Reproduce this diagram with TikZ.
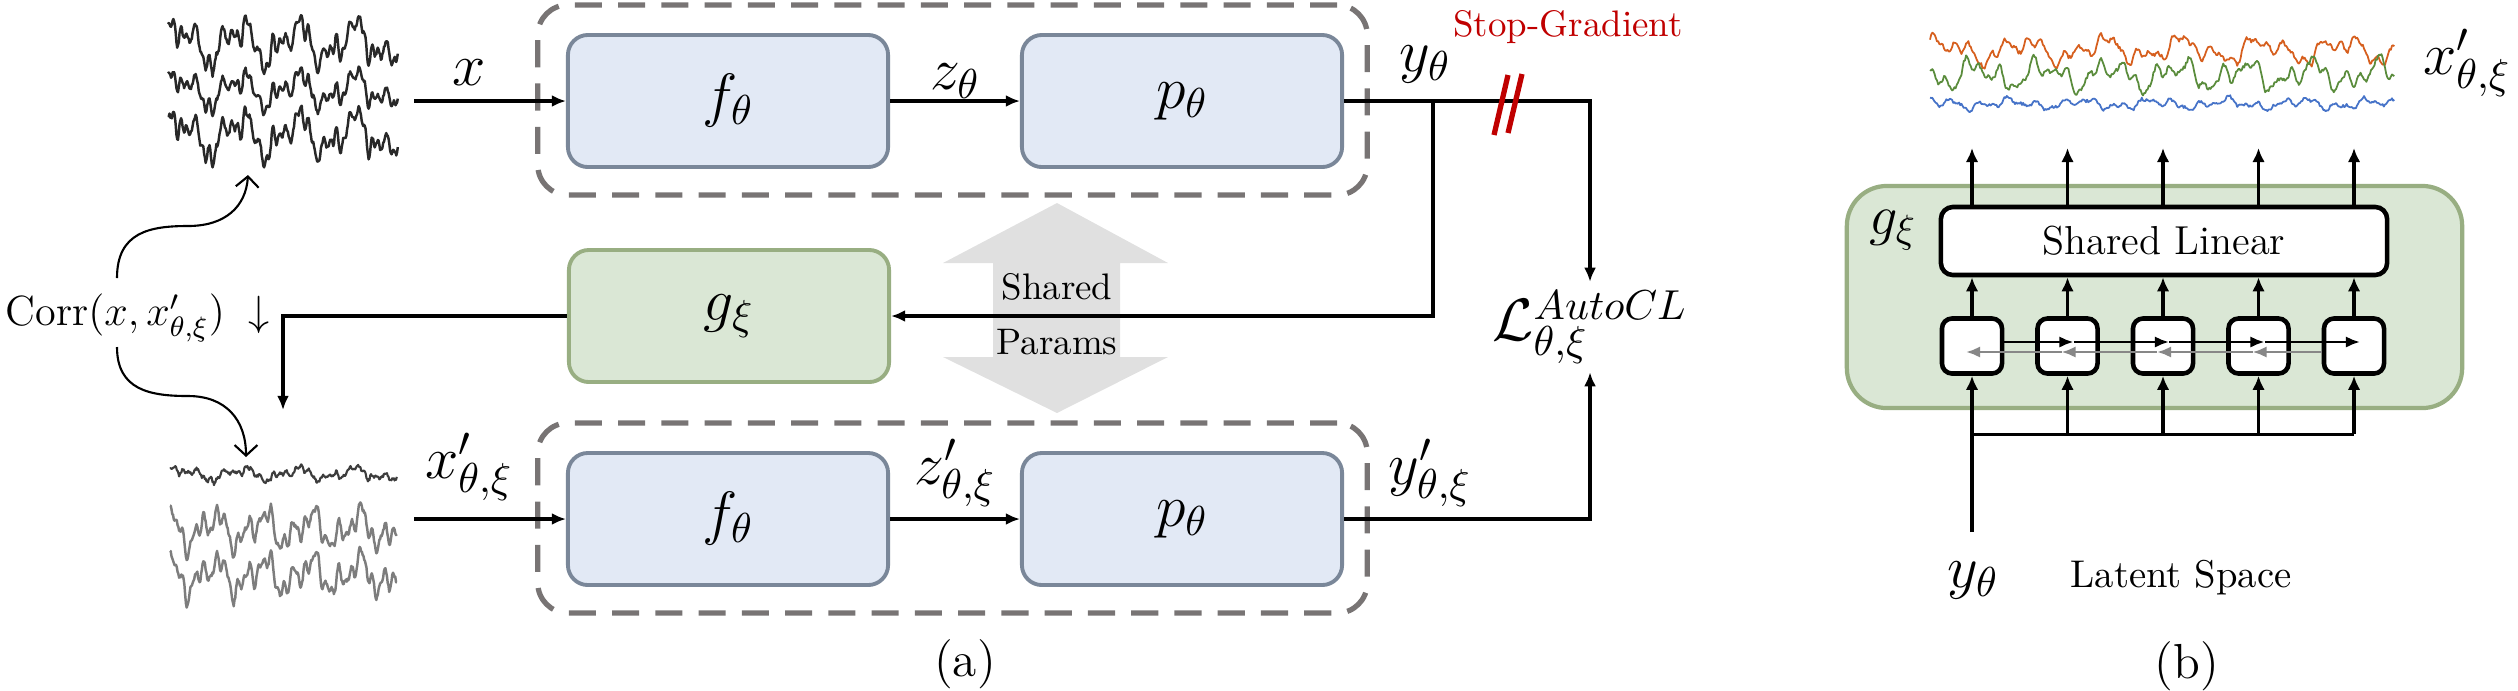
\RequirePackage{fix-cm}
\documentclass[tikz,border=0pt]{standalone}
\usepackage{fontspec}
\newfontfamily\lmr{Latin Modern Roman}
\usetikzlibrary{arrows.meta}
\definecolor{fillblue}{RGB}{226,233,245}
\definecolor{boxblue}{RGB}{122,135,153}
\definecolor{fillgreen}{RGB}{218,231,213}
\definecolor{boxgreen}{RGB}{152,174,130}
\definecolor{dashgray}{RGB}{120,116,116}
\definecolor{sharegray}{RGB}{224,224,224}
\definecolor{stopred}{RGB}{192,0,0}
\definecolor{trorange}{RGB}{214,95,30}
\definecolor{trgreen}{RGB}{90,140,60}
\definecolor{trblue}{RGB}{70,115,200}
\definecolor{eegdark}{RGB}{40,40,40}
\definecolor{eeggray}{RGB}{125,125,125}
\definecolor{cellgray}{RGB}{135,135,135}
\begin{document}
\begin{tikzpicture}[x=0.01cm,y=-0.01cm,
  mlab/.style={font=\fontsize{17}{20}\selectfont, inner sep=0pt},
  llab/.style={font=\lmr\fontsize{#1}{#1}\selectfont, inner sep=0pt},
  blk/.style={draw=boxblue, fill=fillblue, line width=1.1pt, rounded corners=0.2cm,
    minimum width=3.2cm, minimum height=1.32cm, font=\fontsize{17}{20}\selectfont},
  gblk/.style={blk, draw=boxgreen, fill=fillgreen},
  dbox/.style={draw=dashgray, line width=1.5pt, dash pattern=on 7.7pt off 4.6pt,
    rounded corners=0.3cm, minimum width=8.29cm, minimum height=1.9cm},
  arr/.style={line width=0.9pt, -{Latex[length=4pt,width=3.4pt]}},
  carr/.style={line width=0.6pt, -{Straight Barb[length=3pt,width=6.5pt]}},
  arrb/.style={line width=0.95pt, -{Latex[length=4pt,width=3.6pt]}},
  harr/.style={line width=0.75pt, -{Latex[length=4pt,width=3.2pt]}},
  cell/.style={draw, fill=white, line width=1.3pt, rounded corners=0.1cm,
    minimum width=0.6cm, minimum height=0.55cm},
  eeg/.style={line width=0.7pt, line join=round},
  declare function={
    eA(\t)=15*sin(1430*\t+10)+10*sin(3100*\t+70)+7*sin(6500*\t+20)+5*sin(11700*\t+150)+3*sin(14300*\t+40);
    eC(\t)=12*sin(1700*\t+120)+9*sin(3500*\t+10)+7*sin(7300*\t+60)+5*sin(12100*\t+100);
    rO(\t)=8*sin(2100*\t+30)+6*sin(4700*\t+80)+4*sin(9100*\t)+3*sin(13900*\t+50);
    rG(\t)=9*sin(2500*\t+200)+7*sin(5300*\t+10)+5*sin(9700*\t+90)+3*sin(14900*\t);
    rB(\t)=3*sin(2300*\t+60)+3*sin(6100*\t+140)+2*sin(11300*\t+20);
  }]
\useasboundingbox (0,0) rectangle (2518,690);
\pgfmathsetseed{11}

% ---------- panel (a) ----------
\node[dbox] (enc1) at (952.5,100) {};
\node[dbox] (enc2) at (952.5,518) {};

\fill[sharegray] (1057,203) -- (1168,263) -- (1120,263) -- (1120,357) -- (1168,357)
  -- (1057,413) -- (943,357) -- (993,357) -- (993,263) -- (943,263) -- cycle;
\node[llab=10.5] (sh) at (1057,287) {Shared};
\node[llab=10.5] (pa) at (1057,342) {Params};

\node[blk] (f1) at (728,101) {$f_\theta$};
\node[blk] (p1) at (1182,101) {$p_\theta$};
\node[gblk] (g) at (729,316) {$g_\xi$};
\node[blk] (f2) at (728,519) {$f_\theta$};
\node[blk] (p2) at (1182,519) {$p_\theta$};

% signals (a)
\draw[eeg, eegdark] plot[domain=0:1, samples=300] ({168+230*\x},{43-eA(\x)-2*rand});
\draw[eeg, eegdark] plot[domain=0:1, samples=300] ({168+230*\x},{90-0.8*eA(\x)-2*rand});
\draw[eeg, eegdark] plot[domain=0:1, samples=300] ({168+230*\x},{135-eA(\x)-2*rand});
\draw[eeg, eegdark!90, line width=0.6pt] plot[domain=0:1, samples=300] ({170+227*\x},{474-0.3*eA(\x)-1.5*rand});
\draw[eeg, eeggray] plot[domain=0:1, samples=300] ({170+227*\x},{529-eC(\x)-2*rand});
\draw[eeg, eeggray] plot[domain=0:1, samples=300] ({170+227*\x},{575-eC(\x)-2*rand});

\coordinate (xin) at (414,101);
\coordinate (xin2) at (414,519);
\coordinate (sig2top) at (283,410);
\coordinate (br) at (1433,101);
\coordinate (corner1) at (1590,101);

\node[mlab, minimum height=0.89cm] (L) at (1590,327) {$\mathcal{L}^{AutoCL}_{\theta,\xi}$};

\draw[arr] (xin) -- (f1.west);
\draw[arr] (f1) -- (p1);
\draw[arr] (p1.east) -- (corner1) -- (L.north);
\draw[arr] (br) |- (g.east);
\draw[arr] (g.west) -| (sig2top);
\draw[arr] (xin2) -- (f2.west);
\draw[arr] (f2) -- (p2);
\draw[arr] (p2.east) -| (L.south);

\node[mlab] (xl) at (469,73) {$x$};
\node[mlab] (zl) at (955,81) {$z_\theta$};
\node[mlab] (yl) at (1425,64) {$y_\theta$};
\node[mlab] (xl2) at (469,467) {$x'_{\theta,\xi}$};
\node[mlab] (zl2) at (955,473) {$z'_{\theta,\xi}$};
\node[mlab] (yl2) at (1430,473) {$y'_{\theta,\xi}$};

\node[llab=10.5, text=stopred] (sg) at (1568,27) {Stop-Gradient};
\draw[stopred, line width=1.5pt] (1508,75) -- (1494,135);
\draw[stopred, line width=1.5pt] (1522,74) -- (1508,133);

\node[font=\fontsize{12}{14}\selectfont, inner sep=0pt, anchor=west] (corr) at (5,318)
  {$\mathrm{Corr}\big(x, x'_{\theta,\xi}\big)\;\downarrow$};
\coordinate (cs1) at (117,278);
\coordinate (ce1) at (248,175);
\coordinate (cs2) at (117,347);
\coordinate (ce2) at (246,457);
\draw[carr] (cs1) .. controls (117,232) and (150,226) .. (188,226) .. controls (226,226) and (246,206) .. (ce1);
\draw[carr] (cs2) .. controls (117,390) and (150,396) .. (188,396) .. controls (226,396) and (246,420) .. (ce2);

\node[llab=14] (ca) at (965,664) {(a)};

% ---------- panel (b) ----------
\node[draw=boxgreen, fill=fillgreen, line width=1.2pt, rounded corners=0.4cm,
  minimum width=6.15cm, minimum height=2.22cm] (G2) at (2154.5,297) {};
\node[mlab, font=\fontsize{16}{19}\selectfont] (gl) at (1893,230) {$g_\xi$};
\node[draw, fill=white, line width=1.3pt, rounded corners=0.12cm, minimum width=4.46cm,
  minimum height=0.68cm, font=\lmr\fontsize{11.5}{13}\selectfont] (SL) at (2164,241) {Shared Linear};
\foreach \i/\xx in {1/1972,2/2067.5,3/2163,4/2258.5,5/2354}{
  \node[cell] (c\i) at (\xx,346) {};
  \coordinate (hb\i) at (\xx+6,342);
  \coordinate (hg\i) at (\xx-6,352);
}
\coordinate (busy) at (0,434);
\coordinate (topy) at (0,148);
\coordinate (yin) at (1972,532);
\foreach \i in {1,...,5}{
  \draw[arrb] (c\i.north) -- (c\i.north |- SL.south);
  \draw[arrb] (c\i.north |- SL.north) -- (c\i.north |- topy);
}
\draw[line width=0.85pt] (c1.south |- busy) -- (c5.south |- busy);
\foreach \i in {2,...,5}{
  \draw[arrb] (c\i.south |- busy) -- (c\i.south);
}
\draw[arrb] (yin) -- (c1.south);
\draw[harr] (c1.east |- hb1) -- (hb2);
\draw[harr] (hb2) -- (hb3);
\draw[harr] (hb3) -- (hb4);
\draw[harr] (hb4) -- (hb5);
\draw[harr, cellgray] (c5.west |- hg5) -- (hg4);
\draw[harr, cellgray] (hg4) -- (hg3);
\draw[harr, cellgray] (hg3) -- (hg2);
\draw[harr, cellgray] (hg2) -- (hg1);

\draw[eeg, trorange, line width=0.5pt] plot[domain=0:1, samples=400] ({1930+465*\x},{50-rO(\x)-2*rand});
\draw[eeg, trgreen, line width=0.5pt] plot[domain=0:1, samples=400] ({1930+465*\x},{75-rG(\x)-2*rand});
\draw[eeg, trblue, line width=0.5pt] plot[domain=0:1, samples=400] ({1930+465*\x},{104-rB(\x)-1.5*rand});

\node[mlab] (xr) at (2467,63) {$x'_{\theta,\xi}$};
\node[mlab] (yr) at (1973,580) {$y_\theta$};
\node[llab=11] (ls) at (2181,578) {Latent Space};
\node[llab=14] (cb) at (2187,666) {(b)};
\end{tikzpicture}
\end{document}
